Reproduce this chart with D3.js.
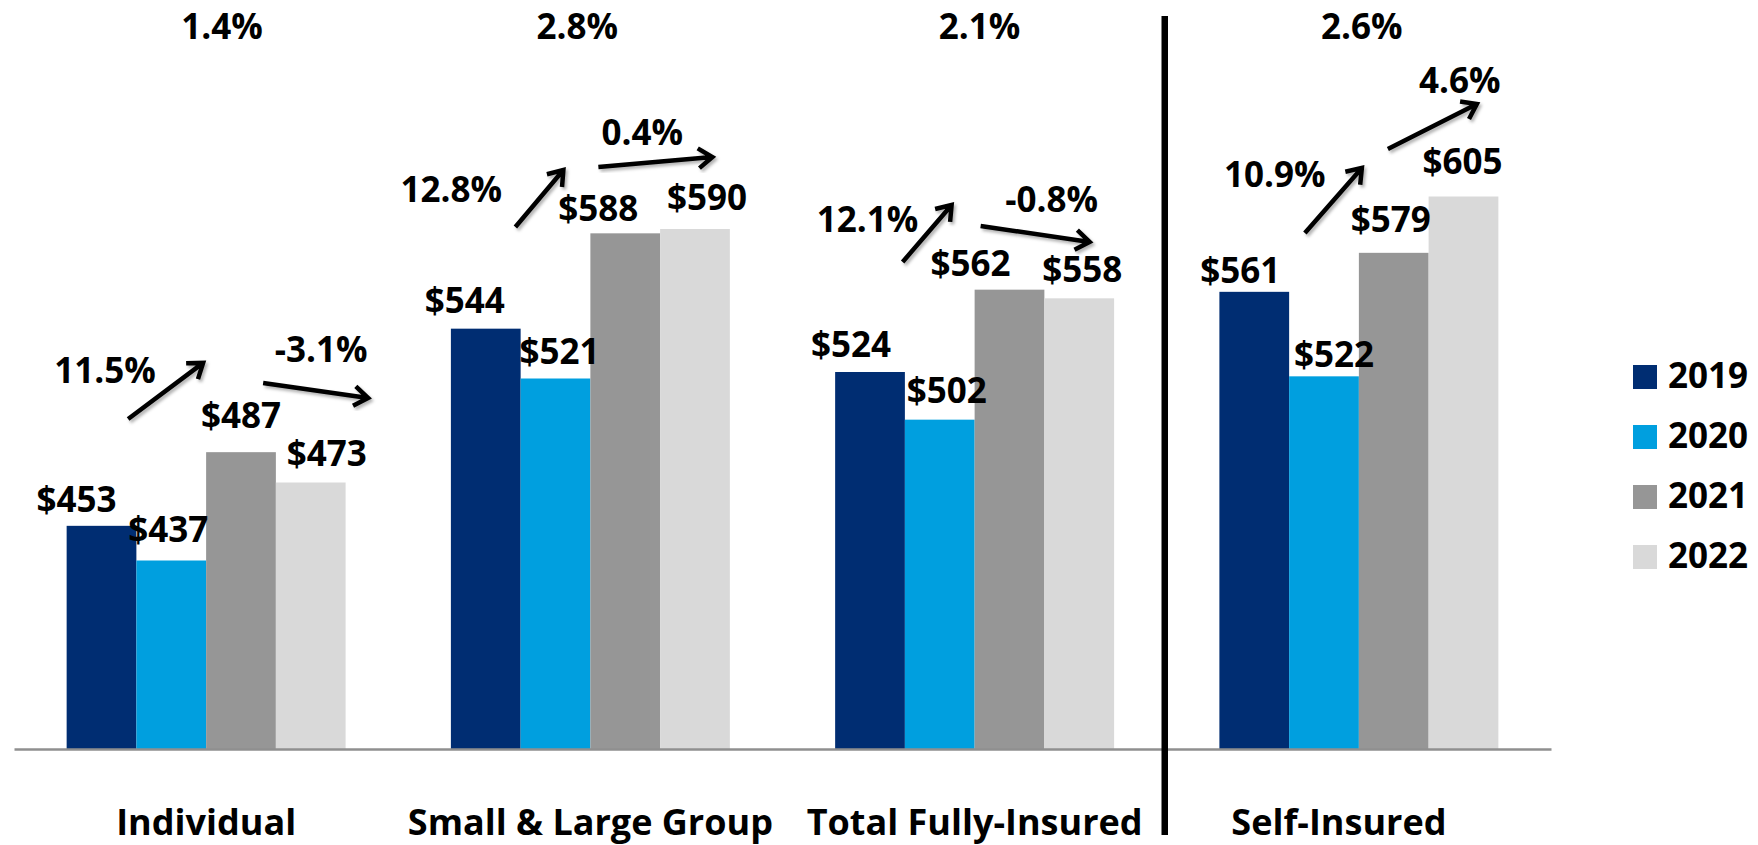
<!DOCTYPE html>
<html>
<head>
<meta charset="utf-8">
<script src="https://cdn.jsdelivr.net/npm/d3@7"></script>
<style>
  html, body { margin: 0; padding: 0; background: #fff; }
  svg { display: block; }
  text { font-family: "Open Sans", "Liberation Sans", sans-serif; font-weight: 700; fill: #000; }
</style>
</head>
<body>
<svg id="chart" width="1758" height="845"></svg>
<script>
// ---- data ----
const categories = ["Individual", "Small & Large Group", "Total Fully-Insured", "Self-Insured"];
const years = ["2019", "2020", "2021", "2022"];
const values2019 = [453, 544, 524, 561];
const values2020 = [437, 521, 502, 522];
const values2021 = [487, 588, 562, 579];
const values2022 = [473, 590, 558, 605];
const growth2019to2021 = ["11.5%", "12.8%", "12.1%", "10.9%"];
const growth2021to2022 = ["-3.1%", "0.4%", "-0.8%", "4.6%"];
const avgAnnualGrowth = ["1.4%", "2.8%", "2.1%", "2.6%"];
const valueDomain = [350, 650];

// ---- layout (annotation placement) ----
// value label nudges: [dx from bar centre, dy from bar top], per category, per year
const valueLabelNudge = [
  [[-25, -14], [-3, -19], [0, -24], [16, -17]],
  [[-21, -16], [4, -15], [-27, -12], [12, -19]],
  [[-19, -15], [7, -17], [-39, -14], [3, -16]],
  [[-14, -9], [10, -9], [-3, -21], [-1, -23]]
];
// growth labels: [dx from group centre, vertical position in value units]
const growthLabelPos = [
  [[-101, 518.9], [115, 528.6]],
  [[-139, 602.5], [52, 628.8]],
  [[-107, 588.6], [77, 597.8]],
  [[-84, 609.4], [101, 652.8]]
];
// growth arrows: [dx1, v1, dx2, v2] relative to group centre / value scale
const growthArrowPos = [
  [[-78, 502.3, -3, 528.2], [57, 518.9, 162, 512.0]],
  [[-75, 590.9, -27, 617.2], [8, 618.6, 122, 623.2]],
  [[-72, 574.8, -23, 601.1], [6, 591.4, 115, 584.0]],
  [[-54, 588.2, 3, 618.2], [29, 626.9, 118, 647.7]]
];
const topLabelNudge = [16, -13, 5, 3];
const categoryLabelNudge = [0, 0, 0, -20];

const series = { "2019": values2019, "2020": values2020, "2021": values2021, "2022": values2022 };
const rows = categories.map((c, i) => ({
  category: c,
  index: i,
  bars: years.map((yr, j) => ({ year: yr, value: series[yr][i], j }))
}));

// ---- scales ----
const x0 = d3.scaleBand().domain(categories).range([14, 1551]).paddingInner(0.274).paddingOuter(0.137);
const x1 = d3.scaleBand().domain(years).range([0, x0.bandwidth()]);
const y = d3.scaleLinear().domain(valueDomain).range([749, 99]);
const color = d3.scaleOrdinal().domain(years).range(["#002D72", "#009FDF", "#969696", "#D9D9D9"]);
const groupCenter = c => x0(c) + x0.bandwidth() / 2;

const svg = d3.select("#chart");

// soft shadow under the growth arrows
const defs = svg.append("defs");
defs.append("filter").attr("id", "arrowShadow")
  .attr("x", "-20%").attr("y", "-20%").attr("width", "140%").attr("height", "140%")
  .append("feDropShadow")
  .attr("dx", 2).attr("dy", 2.5).attr("stdDeviation", 1.8)
  .attr("flood-color", "#000").attr("flood-opacity", 0.3);

// ---- bars ----
const groups = svg.append("g").selectAll("g.group")
  .data(rows).join("g")
  .attr("class", "group")
  .attr("transform", d => `translate(${x0(d.category)},0)`);

groups.selectAll("rect")
  .data(d => d.bars)
  .join("rect")
  .attr("x", b => x1(b.year))
  .attr("y", b => y(b.value))
  .attr("width", x1.bandwidth())
  .attr("height", b => y(valueDomain[0]) - y(b.value))
  .attr("fill", b => color(b.year));

// ---- baseline axis with category labels ----
const axis = svg.append("g")
  .attr("transform", `translate(0,${y(valueDomain[0])})`)
  .call(d3.axisBottom(x0).tickSize(0).tickSizeOuter(0));
axis.select(".domain").attr("stroke", "#8f8f8f").attr("stroke-width", 2.5);
axis.selectAll(".tick text")
  .attr("y", 86).attr("dy", 0)
  .attr("dx", (d, i) => categoryLabelNudge[i])
  .attr("font-size", 36)
  .style("font-family", "\"Open Sans\", \"Liberation Sans\", sans-serif")
  .style("font-weight", 700)
  .attr("fill", "#000");

// ---- value labels ----
groups.selectAll("text.value")
  .data(d => d.bars.map(b => ({ ...b, gi: d.index })))
  .join("text")
  .attr("class", "value")
  .attr("text-anchor", "middle")
  .attr("font-size", 35)
  .attr("x", b => x1(b.year) + x1.bandwidth() / 2 + valueLabelNudge[b.gi][b.j][0])
  .attr("y", b => y(b.value) + valueLabelNudge[b.gi][b.j][1])
  .text(b => "$" + b.value);

// ---- average growth labels along the top ----
svg.append("g").selectAll("text")
  .data(avgAnnualGrowth)
  .join("text")
  .attr("text-anchor", "middle")
  .attr("font-size", 35)
  .attr("x", (d, i) => groupCenter(categories[i]) + topLabelNudge[i])
  .attr("y", 39)
  .text(d => d);

// ---- growth labels and arrows ----
const growthTexts = categories.map((c, i) => [growth2019to2021[i], growth2021to2022[i]]);
const annot = svg.append("g");
categories.forEach((c, i) => {
  const cx = groupCenter(c);
  growthTexts[i].forEach((t, k) => {
    const [dx, v] = growthLabelPos[i][k];
    annot.append("text")
      .attr("text-anchor", "middle")
      .attr("font-size", 35)
      .attr("x", cx + dx)
      .attr("y", y(v))
      .text(t);
    const [ax1, av1, ax2, av2] = growthArrowPos[i][k];
    const xa = cx + ax1, ya = y(av1), xb = cx + ax2, yb = y(av2);
    const ang = Math.atan2(yb - ya, xb - xa);
    const L = 17, spread = 0.62;
    const p1 = [xb + L * Math.cos(ang + Math.PI - spread), yb + L * Math.sin(ang + Math.PI - spread)];
    const p2 = [xb + L * Math.cos(ang + Math.PI + spread), yb + L * Math.sin(ang + Math.PI + spread)];
    const path = d3.path();
    path.moveTo(xa, ya); path.lineTo(xb, yb);
    path.moveTo(p1[0], p1[1]); path.lineTo(xb, yb); path.lineTo(p2[0], p2[1]);
    annot.append("path")
      .attr("d", path.toString())
      .attr("fill", "none")
      .attr("stroke", "#000")
      .attr("stroke-width", 4.5)
      .attr("stroke-linejoin", "miter")
      .attr("filter", "url(#arrowShadow)");
  });
});

// ---- divider between fully-insured and self-insured ----
const dividerX = (x0(categories[2]) + x0.bandwidth() + x0(categories[3])) / 2 - 2;
svg.append("line")
  .attr("x1", dividerX).attr("x2", dividerX)
  .attr("y1", 16).attr("y2", 835)
  .attr("stroke", "#000").attr("stroke-width", 6.5);

// ---- legend ----
const legend = svg.append("g").attr("transform", "translate(1633,365)");
const li = legend.selectAll("g").data(years).join("g")
  .attr("transform", (d, i) => `translate(0,${i * 60})`);
li.append("rect").attr("width", 24).attr("height", 24).attr("fill", d => color(d));
li.append("text").attr("x", 35).attr("y", 23).attr("font-size", 35).text(d => d);
</script>
</body>
</html>
